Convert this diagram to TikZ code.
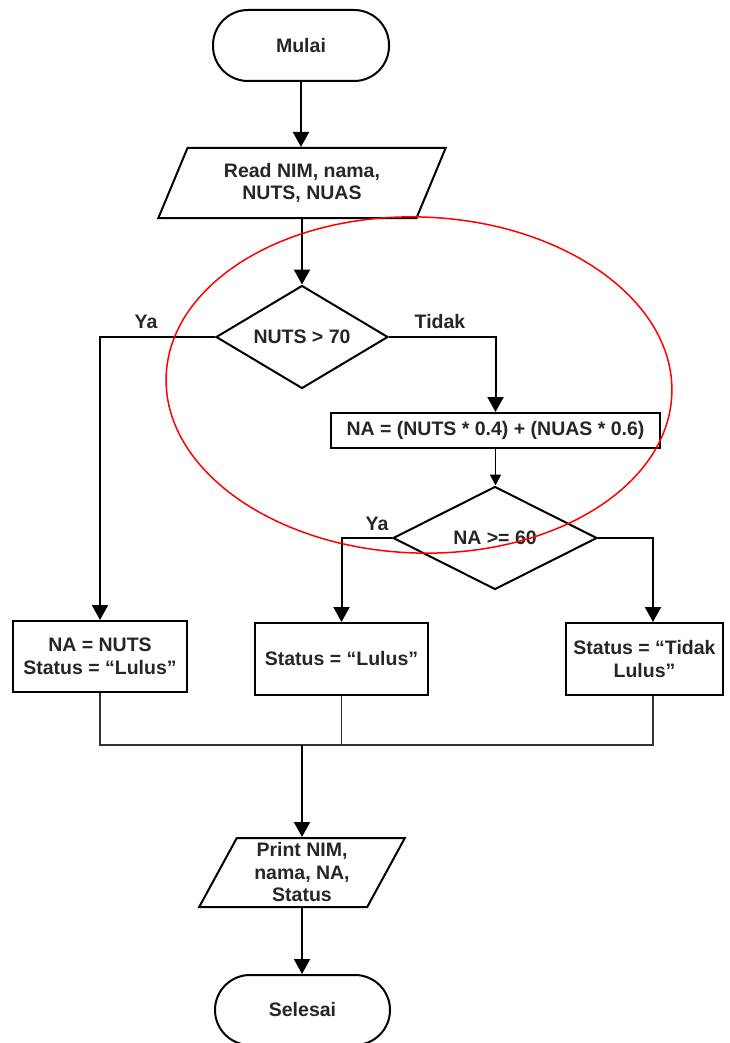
\documentclass[tikz,border=0pt]{standalone}
\usepackage{fontspec}
\setmainfont{Liberation Sans}
\usetikzlibrary{shapes.geometric,arrows.meta}
\begin{document}
\begin{tikzpicture}[x=1pt,y=-1pt,
  every node/.style={font=\fontsize{19.5}{22.5}\selectfont\bfseries, text=black!85, align=center, inner sep=0pt},
  term/.style={draw, line width=2pt, rectangle, rounded corners=35pt, minimum width=176pt, minimum height=71pt},
  proc/.style={draw, line width=2pt, rectangle},
  io/.style={draw, line width=2pt, trapezium, trapezium stretches=true},
  dec/.style={draw, line width=2pt, diamond},
  arr/.style={line width=2pt, -{Triangle[length=15pt,width=16pt]}},
  thinarr/.style={line width=1.6pt, -{Triangle[length=11pt,width=11pt]}},
  merge/.style={line width=1.6pt, draw=black!80},
  lbl/.style={}
]
\fill[white] (0,0) rectangle (730,1043);
\useasboundingbox (0,0) rectangle (730,1043);

\node[term] (start) at (301,45.5) {Mulai};
\node[io, trapezium left angle=63.4, trapezium right angle=116.6, minimum width=288pt, minimum height=70pt] (read) at (302,183) {Read NIM, nama,\\NUTS, NUAS};
\node[dec, aspect=1.67, minimum width=172pt, minimum height=103pt] (d1) at (302,337) {NUTS > 70};
\node[proc, minimum width=329pt, minimum height=35pt] (na) at (495.5,430.5) {NA = (NUTS * 0.4) + (NUAS * 0.6)};
\node[dec, aspect=2, minimum width=204pt, minimum height=103pt] (d2) at (495,538) {NA >= 60};

\node[proc, minimum width=174pt, minimum height=71pt] (b1) at (100,656.5) {NA = NUTS\\Status = “Lulus”};
\node[proc, minimum width=173pt, minimum height=72pt] (b2) at (341.5,659) {Status = “Lulus”};
\node[proc, minimum width=157pt, minimum height=72pt] (b3) at (644.5,659) {Status = “Tidak\\Lulus”};

\node[io, trapezium left angle=65.1, trapezium right angle=114.9, minimum width=206pt, minimum height=69pt] (print) at (302,872.5) {Print NIM,\\nama, NA,\\Status};
\node[term, minimum width=175pt, minimum height=70pt] (end) at (302.5,1010) {Selesai};

\node[lbl] (ya1) at (146,322) {Ya};
\node[lbl] (tidak) at (440,322) {Tidak};
\node[lbl] (ya2) at (377,524) {Ya};

\coordinate (x3) at (653,600);
\coordinate (j) at (302,745);

\draw[arr] (start.south) -- (start.south |- read.north);
\draw[arr] (read.south) -- (read.south |- d1.north);
\draw[arr] (d1.west) -| (b1.north);
\draw[arr] (d1.east) -| (na.north);
\draw[thinarr] (na.south) -- (na.south |- d2.north);
\draw[arr] (d2.west) -| (b2.north);
\draw[arr] (d2.east) -| (b3.north -| x3);

\draw[merge] (b1.south) |- (j);
\draw[merge] (b3.south -| x3) |- (j);
\draw[merge] (b2.south) -- (b2.south |- j);
\draw[arr] (j) -- (j |- print.north);
\draw[arr] (print.south) -- (print.south |- end.north);

\draw[red, line width=1.5pt, rotate around={-2:(419,385)}] (419,385) ellipse [x radius=253pt, y radius=168pt];
\end{tikzpicture}
\end{document}
